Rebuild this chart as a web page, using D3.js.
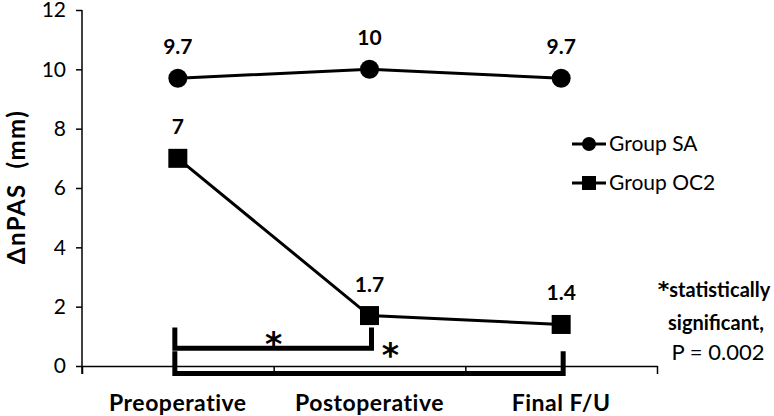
<!DOCTYPE html>
<html>
<head>
<meta charset="utf-8">
<script src="https://cdn.jsdelivr.net/npm/d3@7"></script>
<style>
  body { margin: 0; background: #fff; }
  svg { display: block; font-family: Lato, "Open Sans", sans-serif; }
</style>
</head>
<body>
<div class="chart"></div>
<script>

var categories = ["Preoperative", "Postoperative", "Final F/U"];
var groupSA = [9.7, 10, 9.7];
var groupOC2 = [7, 1.7, 1.4];
var seriesNames = ["Group SA", "Group OC2"];
var yTicks = [0, 2, 4, 6, 8, 10, 12];

// significance brackets (values in mm on the y scale)
var brackets = [
  {from: 0, to: 1, top: 1.3, bar: 0.6},
  {from: 0, to: 2, top: 0.5, bar: -0.25}
];
var noteLines = ["statistically", "significant,", "P = 0.002"];

var width = 774, height = 416;

var svg = d3.select(".chart")
  .append("svg")
    .attr("width", width)
    .attr("height", height);

// scales
var x = d3.scaleBand()
  .domain(categories)
  .range([82, 657]);

var xEdge = d3.scaleLinear()
  .domain([0, categories.length])
  .range([82, 657]);

var y = d3.scaleLinear()
  .domain([0, 12])
  .range([366, 10]);

function cx(i) { return x(categories[i]) + x.bandwidth() / 2; }

// y axis
var yAxis = svg.append("g")
  .attr("transform", "translate(82,0)")
  .call(d3.axisLeft(y).tickValues(yTicks).tickSize(6).tickSizeOuter(0).tickPadding(10));

yAxis.select(".domain").remove();
yAxis.append("line")
  .attr("x1", 0).attr("x2", 0)
  .attr("y1", y(12)).attr("y2", y(0) + 8)
  .attr("stroke", "#000").attr("stroke-width", 1.5);
yAxis.selectAll(".tick line").attr("stroke-width", 1.5);
yAxis.selectAll("text")
  .style("font-size", "21px")
  .style("font-family", "Lato, sans-serif")
  .attr("fill", "#000");

// x axis (ticks between categories)
var xAxis = svg.append("g")
  .attr("transform", "translate(0," + y(0) + ")")
  .call(d3.axisBottom(xEdge).tickValues(d3.range(categories.length + 1)).tickSize(8).tickSizeOuter(0).tickFormat(""));
xAxis.select(".domain").attr("stroke-width", 1.5);
xAxis.selectAll(".tick line").attr("stroke-width", 1.5);

svg.append("g")
  .selectAll("text")
  .data(categories)
  .enter()
  .append("text")
    .attr("x", function(d) { return x(d) + x.bandwidth() / 2; })
    .attr("y", 411)
    .attr("text-anchor", "middle")
    .style("font-size", "23px")
    .style("letter-spacing", "0.5px")
    .style("font-weight", "bold")
    .text(function(d) { return d; });

// y label
svg.append("text")
  .attr("transform", "translate(25,187) rotate(-90)")
  .attr("text-anchor", "middle")
  .style("font-size", "24px")
  .style("letter-spacing", "1.5px")
  .style("white-space", "pre")
  .style("font-weight", "bold")
  .text("\u0394nPAS  (mm)");

// brackets
var bg = svg.append("g")
  .attr("fill", "none")
  .attr("stroke", "#000")
  .attr("stroke-width", 5);

bg.selectAll("path")
  .data(brackets)
  .enter()
  .append("path")
    .attr("d", function(b) {
      var x0 = cx(b.from) - 3, x1 = cx(b.to) + 2;
      return "M" + x0 + "," + y(b.top) + "V" + y(b.bar) + "H" + x1 + "V" + y(b.top);
    });

// stars
var starFont = "'DejaVu Sans', sans-serif";
svg.append("text")
  .attr("x", (cx(0) + cx(1)) / 2)
  .attr("y", y(0.97) + 19)
  .attr("text-anchor", "middle")
  .style("font-family", starFont)
  .style("font-size", "33px")
  .style("font-weight", "bold")
  .text("*");

svg.append("text")
  .attr("x", cx(1) + 21)
  .attr("y", y(0.6) + 19)
  .attr("text-anchor", "middle")
  .style("font-family", starFont)
  .style("font-size", "33px")
  .style("font-weight", "bold")
  .text("*");

// lines
var line = d3.line()
  .x(function(d, i) { return cx(i); })
  .y(function(d) { return y(d); });

svg.append("path")
  .datum(groupSA)
  .attr("d", line)
  .attr("fill", "none")
  .attr("stroke", "#000")
  .attr("stroke-width", 3);

svg.append("path")
  .datum(groupOC2)
  .attr("d", line)
  .attr("fill", "none")
  .attr("stroke", "#000")
  .attr("stroke-width", 3);

svg.append("g")
  .selectAll("circle")
  .data(groupSA)
  .enter()
  .append("circle")
    .attr("cx", function(d, i) { return cx(i); })
    .attr("cy", function(d) { return y(d); })
    .attr("r", 9.5)
    .attr("fill", "#000");

var sq = 19;
svg.append("g")
  .selectAll("rect")
  .data(groupOC2)
  .enter()
  .append("rect")
    .attr("x", function(d, i) { return cx(i) - sq / 2; })
    .attr("y", function(d) { return y(d) - sq / 2; })
    .attr("width", sq)
    .attr("height", sq)
    .attr("fill", "#000");

// data labels
function addLabels(data) {
  svg.append("g")
    .selectAll("text")
    .data(data)
    .enter()
    .append("text")
      .attr("x", function(d, i) { return cx(i); })
      .attr("y", function(d) { return y(d) - 24; })
      .attr("text-anchor", "middle")
      .style("font-size", "21px")
      .style("font-weight", "bold")
      .text(function(d) { return d; });
}
addLabels(groupSA);
addLabels(groupOC2);

// legend
var legend = svg.append("g");
var legendY = [144, 183];

legend.selectAll("line")
  .data(seriesNames)
  .enter()
  .append("line")
    .attr("x1", 572).attr("x2", 606)
    .attr("y1", function(d, i) { return legendY[i]; })
    .attr("y2", function(d, i) { return legendY[i]; })
    .attr("stroke", "#000")
    .attr("stroke-width", 3);

legend.append("circle")
  .attr("cx", 589).attr("cy", legendY[0]).attr("r", 7)
  .attr("fill", "#000");

legend.append("rect")
  .attr("x", 582).attr("y", legendY[1] - 7)
  .attr("width", 14).attr("height", 14)
  .attr("fill", "#000");

legend.selectAll("text")
  .data(seriesNames)
  .enter()
  .append("text")
    .attr("x", 609)
    .attr("y", function(d, i) { return legendY[i] + 7; })
    .style("font-size", "21px")
    .text(function(d) { return d; });

// significance note
var note = svg.append("text")
  .attr("text-anchor", "middle");

note.append("tspan")
  .attr("x", 714).attr("y", 297)
  .style("font-family", starFont)
  .style("font-size", "22px")
  .style("font-weight", "bold")
  .text("*");
note.append("tspan")
  .style("font-size", "20px")
  .style("font-weight", "bold")
  .text(noteLines[0]);

svg.append("text")
  .attr("x", 716).attr("y", 330)
  .attr("text-anchor", "middle")
  .style("font-size", "20px")
  .style("font-weight", "bold")
  .text(noteLines[1]);

svg.append("text")
  .attr("x", 718).attr("y", 360)
  .attr("text-anchor", "middle")
  .style("font-size", "22px")
  .text(noteLines[2]);

</script>
</body>
</html>
